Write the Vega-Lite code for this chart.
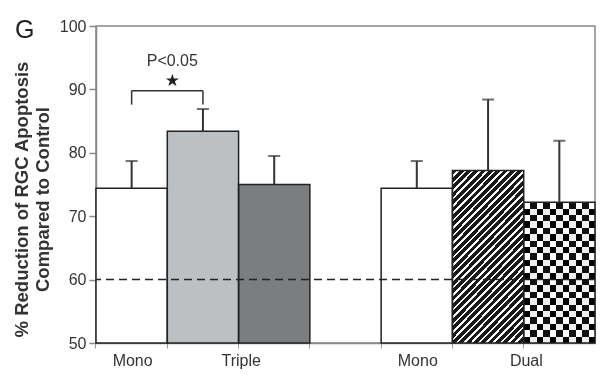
{
  "$schema": "https://vega.github.io/schema/vega-lite/v6.json",
  "width": 499,
  "height": 317,
  "autosize": {"type": "none"},
  "padding": {"left": 96, "top": 26, "right": 5, "bottom": 36},
  "background": "white",
  "config": {"font": "Liberation Sans", "view": {"stroke": "#888", "strokeWidth": 1.5}},
  "title": {"text": "G", "anchor": "start", "frame": "group", "fontSize": 25, "fontWeight": "normal", "color": "#222", "baseline": "alphabetic", "offset": 0, "dx": -81, "dy": 45},
  "data": {"values": [
    {"bar": "Mono-1", "group": "Triple", "treatment": "Mono", "mean": 74.4, "upper": 78.7},
    {"bar": "Triple-1", "group": "Triple", "treatment": "Triple A", "mean": 83.4, "upper": 86.9},
    {"bar": "Triple-2", "group": "Triple", "treatment": "Triple B", "mean": 75.0, "upper": 79.5},
    {"bar": "Mono-2", "group": "Dual", "treatment": "Mono", "mean": 74.4, "upper": 78.7},
    {"bar": "Dual-1", "group": "Dual", "treatment": "Dual A", "mean": 77.2, "upper": 88.4},
    {"bar": "Dual-2", "group": "Dual", "treatment": "Dual B", "mean": 72.2, "upper": 81.9}
  ]},
  "encoding": {
    "x": {
      "field": "bar", "type": "nominal",
      "scale": {"type": "band", "domain": ["Mono-1", "Triple-1", "Triple-2", "gap", "Mono-2", "Dual-1", "Dual-2"], "paddingInner": 0, "paddingOuter": 0},
      "axis": {
        "title": null, "bandPosition": 0, "labelAngle": 0,
        "tickSize": 5, "tickColor": "#999", "tickWidth": 1,
        "domainColor": "#888", "domainWidth": 1.5,
        "labelFontSize": 16, "labelColor": "#333", "labelPadding": 4,
        "labelExpr": "datum.value == 'Mono-1' || datum.value == 'Mono-2' ? 'Mono' : datum.value == 'Triple-2' ? 'Triple' : datum.value == 'Dual-2' ? 'Dual' : ''",
        "labelOffset": {"condition": {"test": "datum.value == 'Mono-1' || datum.value == 'Mono-2'", "value": 1}, "value": -33}
      }
    }
  },
  "layer": [
    {
      "mark": {"type": "bar", "strokeWidth": 0},
      "encoding": {
        "y": {"field": "mean", "type": "quantitative", "scale": {"domain": [50, 100], "nice": false, "zero": false},
          "title": ["% Reduction of RGC Apoptosis", "Compared to Control"],
          "axis": {"values": [50, 60, 70, 80, 90, 100], "grid": false,
            "domainColor": "#888", "domainWidth": 1.5, "tickColor": "#888", "tickSize": 7, "tickWidth": 1.5,
            "labelFontSize": 16, "labelColor": "#333", "labelPadding": 3,
            "titleFontSize": 18.5, "titleFontWeight": "bold", "titleColor": "#333", "titleLineHeight": 21, "titleY": 173, "titlePadding": 7}},
        "y2": {"datum": 50},
        "fill": {"field": "bar", "type": "nominal", "legend": null,
          "scale": {"domain": ["Mono-1", "Triple-1", "Triple-2", "Mono-2", "Dual-1", "Dual-2"], "range": ["#ffffff", "#bcc0c3", "#7b7d80", "#ffffff", "#1a1a1a", "#ffffff"]}}
      }
    },
    {
      "transform": [{"filter": "datum.bar == 'Dual-1'"}],
      "mark": {"type": "bar", "strokeWidth": 0, "fill": {"gradient": "linear", "x1": 0, "y1": 0, "x2": 0.507, "y2": 1.207, "stops": [
        {"offset": 0, "color": "#1a1a1a"}, {"offset": 0.0197, "color": "#1a1a1a"}, {"offset": 0.0197, "color": "#ffffff"}, {"offset": 0.0303, "color": "#ffffff"},
        {"offset": 0.0303, "color": "#1a1a1a"}, {"offset": 0.0500, "color": "#1a1a1a"}, {"offset": 0.0500, "color": "#ffffff"}, {"offset": 0.0606, "color": "#ffffff"},
        {"offset": 0.0606, "color": "#1a1a1a"}, {"offset": 0.0803, "color": "#1a1a1a"}, {"offset": 0.0803, "color": "#ffffff"}, {"offset": 0.0909, "color": "#ffffff"},
        {"offset": 0.0909, "color": "#1a1a1a"}, {"offset": 0.1106, "color": "#1a1a1a"}, {"offset": 0.1106, "color": "#ffffff"}, {"offset": 0.1212, "color": "#ffffff"},
        {"offset": 0.1212, "color": "#1a1a1a"}, {"offset": 0.1409, "color": "#1a1a1a"}, {"offset": 0.1409, "color": "#ffffff"}, {"offset": 0.1515, "color": "#ffffff"},
        {"offset": 0.1515, "color": "#1a1a1a"}, {"offset": 0.1712, "color": "#1a1a1a"}, {"offset": 0.1712, "color": "#ffffff"}, {"offset": 0.1818, "color": "#ffffff"},
        {"offset": 0.1818, "color": "#1a1a1a"}, {"offset": 0.2015, "color": "#1a1a1a"}, {"offset": 0.2015, "color": "#ffffff"}, {"offset": 0.2121, "color": "#ffffff"},
        {"offset": 0.2121, "color": "#1a1a1a"}, {"offset": 0.2318, "color": "#1a1a1a"}, {"offset": 0.2318, "color": "#ffffff"}, {"offset": 0.2424, "color": "#ffffff"},
        {"offset": 0.2424, "color": "#1a1a1a"}, {"offset": 0.2621, "color": "#1a1a1a"}, {"offset": 0.2621, "color": "#ffffff"}, {"offset": 0.2727, "color": "#ffffff"},
        {"offset": 0.2727, "color": "#1a1a1a"}, {"offset": 0.2924, "color": "#1a1a1a"}, {"offset": 0.2924, "color": "#ffffff"}, {"offset": 0.3030, "color": "#ffffff"},
        {"offset": 0.3030, "color": "#1a1a1a"}, {"offset": 0.3227, "color": "#1a1a1a"}, {"offset": 0.3227, "color": "#ffffff"}, {"offset": 0.3333, "color": "#ffffff"},
        {"offset": 0.3333, "color": "#1a1a1a"}, {"offset": 0.3530, "color": "#1a1a1a"}, {"offset": 0.3530, "color": "#ffffff"}, {"offset": 0.3636, "color": "#ffffff"},
        {"offset": 0.3636, "color": "#1a1a1a"}, {"offset": 0.3833, "color": "#1a1a1a"}, {"offset": 0.3833, "color": "#ffffff"}, {"offset": 0.3939, "color": "#ffffff"},
        {"offset": 0.3939, "color": "#1a1a1a"}, {"offset": 0.4136, "color": "#1a1a1a"}, {"offset": 0.4136, "color": "#ffffff"}, {"offset": 0.4242, "color": "#ffffff"},
        {"offset": 0.4242, "color": "#1a1a1a"}, {"offset": 0.4439, "color": "#1a1a1a"}, {"offset": 0.4439, "color": "#ffffff"}, {"offset": 0.4545, "color": "#ffffff"},
        {"offset": 0.4545, "color": "#1a1a1a"}, {"offset": 0.4742, "color": "#1a1a1a"}, {"offset": 0.4742, "color": "#ffffff"}, {"offset": 0.4848, "color": "#ffffff"},
        {"offset": 0.4848, "color": "#1a1a1a"}, {"offset": 0.5045, "color": "#1a1a1a"}, {"offset": 0.5045, "color": "#ffffff"}, {"offset": 0.5152, "color": "#ffffff"},
        {"offset": 0.5152, "color": "#1a1a1a"}, {"offset": 0.5348, "color": "#1a1a1a"}, {"offset": 0.5348, "color": "#ffffff"}, {"offset": 0.5455, "color": "#ffffff"},
        {"offset": 0.5455, "color": "#1a1a1a"}, {"offset": 0.5652, "color": "#1a1a1a"}, {"offset": 0.5652, "color": "#ffffff"}, {"offset": 0.5758, "color": "#ffffff"},
        {"offset": 0.5758, "color": "#1a1a1a"}, {"offset": 0.5955, "color": "#1a1a1a"}, {"offset": 0.5955, "color": "#ffffff"}, {"offset": 0.6061, "color": "#ffffff"},
        {"offset": 0.6061, "color": "#1a1a1a"}, {"offset": 0.6258, "color": "#1a1a1a"}, {"offset": 0.6258, "color": "#ffffff"}, {"offset": 0.6364, "color": "#ffffff"},
        {"offset": 0.6364, "color": "#1a1a1a"}, {"offset": 0.6561, "color": "#1a1a1a"}, {"offset": 0.6561, "color": "#ffffff"}, {"offset": 0.6667, "color": "#ffffff"},
        {"offset": 0.6667, "color": "#1a1a1a"}, {"offset": 0.6864, "color": "#1a1a1a"}, {"offset": 0.6864, "color": "#ffffff"}, {"offset": 0.6970, "color": "#ffffff"},
        {"offset": 0.6970, "color": "#1a1a1a"}, {"offset": 0.7167, "color": "#1a1a1a"}, {"offset": 0.7167, "color": "#ffffff"}, {"offset": 0.7273, "color": "#ffffff"},
        {"offset": 0.7273, "color": "#1a1a1a"}, {"offset": 0.7470, "color": "#1a1a1a"}, {"offset": 0.7470, "color": "#ffffff"}, {"offset": 0.7576, "color": "#ffffff"},
        {"offset": 0.7576, "color": "#1a1a1a"}, {"offset": 0.7773, "color": "#1a1a1a"}, {"offset": 0.7773, "color": "#ffffff"}, {"offset": 0.7879, "color": "#ffffff"},
        {"offset": 0.7879, "color": "#1a1a1a"}, {"offset": 0.8076, "color": "#1a1a1a"}, {"offset": 0.8076, "color": "#ffffff"}, {"offset": 0.8182, "color": "#ffffff"},
        {"offset": 0.8182, "color": "#1a1a1a"}, {"offset": 0.8379, "color": "#1a1a1a"}, {"offset": 0.8379, "color": "#ffffff"}, {"offset": 0.8485, "color": "#ffffff"},
        {"offset": 0.8485, "color": "#1a1a1a"}, {"offset": 0.8682, "color": "#1a1a1a"}, {"offset": 0.8682, "color": "#ffffff"}, {"offset": 0.8788, "color": "#ffffff"},
        {"offset": 0.8788, "color": "#1a1a1a"}, {"offset": 0.8985, "color": "#1a1a1a"}, {"offset": 0.8985, "color": "#ffffff"}, {"offset": 0.9091, "color": "#ffffff"},
        {"offset": 0.9091, "color": "#1a1a1a"}, {"offset": 0.9288, "color": "#1a1a1a"}, {"offset": 0.9288, "color": "#ffffff"}, {"offset": 0.9394, "color": "#ffffff"},
        {"offset": 0.9394, "color": "#1a1a1a"}, {"offset": 0.9591, "color": "#1a1a1a"}, {"offset": 0.9591, "color": "#ffffff"}, {"offset": 0.9697, "color": "#ffffff"},
        {"offset": 0.9697, "color": "#1a1a1a"}, {"offset": 0.9894, "color": "#1a1a1a"}, {"offset": 0.9894, "color": "#ffffff"}, {"offset": 1, "color": "#ffffff"}
      ]}},
      "encoding": {
        "y": {"field": "mean", "type": "quantitative", "title": ["% Reduction of RGC Apoptosis", "Compared to Control"]},
        "y2": {"datum": 50}
      }
    },
    {
      "transform": [{"filter": "datum.bar == 'Dual-2'"}],
      "mark": {"type": "bar", "strokeWidth": 0, "fill": {"gradient": "linear", "x1": 0, "y1": 0, "x2": 1, "y2": 0, "stops": [
        {"offset": 0, "color": "#ffffff"}, {"offset": 0.0909, "color": "#ffffff"}, {"offset": 0.0909, "color": "#111111"}, {"offset": 0.1818, "color": "#111111"},
        {"offset": 0.1818, "color": "#ffffff"}, {"offset": 0.2727, "color": "#ffffff"}, {"offset": 0.2727, "color": "#111111"}, {"offset": 0.3636, "color": "#111111"},
        {"offset": 0.3636, "color": "#ffffff"}, {"offset": 0.4545, "color": "#ffffff"}, {"offset": 0.4545, "color": "#111111"}, {"offset": 0.5455, "color": "#111111"},
        {"offset": 0.5455, "color": "#ffffff"}, {"offset": 0.6364, "color": "#ffffff"}, {"offset": 0.6364, "color": "#111111"}, {"offset": 0.7273, "color": "#111111"},
        {"offset": 0.7273, "color": "#ffffff"}, {"offset": 0.8182, "color": "#ffffff"}, {"offset": 0.8182, "color": "#111111"}, {"offset": 0.9091, "color": "#111111"},
        {"offset": 0.9091, "color": "#ffffff"}, {"offset": 1, "color": "#ffffff"}
      ]}},
      "encoding": {
        "y": {"field": "mean", "type": "quantitative", "title": ["% Reduction of RGC Apoptosis", "Compared to Control"]},
        "y2": {"datum": 50}
      }
    },
    {
      "transform": [{"filter": "datum.bar == 'Dual-2'"}],
      "mark": {"type": "bar", "strokeWidth": 0, "blend": "difference", "fill": {"gradient": "linear", "x1": 0, "y1": 0, "x2": 0, "y2": 1, "stops": [
        {"offset": 0, "color": "#000000"}, {"offset": 0.0455, "color": "#000000"}, {"offset": 0.0455, "color": "#ffffff"}, {"offset": 0.0909, "color": "#ffffff"},
        {"offset": 0.0909, "color": "#000000"}, {"offset": 0.1364, "color": "#000000"}, {"offset": 0.1364, "color": "#ffffff"}, {"offset": 0.1818, "color": "#ffffff"},
        {"offset": 0.1818, "color": "#000000"}, {"offset": 0.2273, "color": "#000000"}, {"offset": 0.2273, "color": "#ffffff"}, {"offset": 0.2727, "color": "#ffffff"},
        {"offset": 0.2727, "color": "#000000"}, {"offset": 0.3182, "color": "#000000"}, {"offset": 0.3182, "color": "#ffffff"}, {"offset": 0.3636, "color": "#ffffff"},
        {"offset": 0.3636, "color": "#000000"}, {"offset": 0.4091, "color": "#000000"}, {"offset": 0.4091, "color": "#ffffff"}, {"offset": 0.4545, "color": "#ffffff"},
        {"offset": 0.4545, "color": "#000000"}, {"offset": 0.5, "color": "#000000"}, {"offset": 0.5, "color": "#ffffff"}, {"offset": 0.5455, "color": "#ffffff"},
        {"offset": 0.5455, "color": "#000000"}, {"offset": 0.5909, "color": "#000000"}, {"offset": 0.5909, "color": "#ffffff"}, {"offset": 0.6364, "color": "#ffffff"},
        {"offset": 0.6364, "color": "#000000"}, {"offset": 0.6818, "color": "#000000"}, {"offset": 0.6818, "color": "#ffffff"}, {"offset": 0.7273, "color": "#ffffff"},
        {"offset": 0.7273, "color": "#000000"}, {"offset": 0.7727, "color": "#000000"}, {"offset": 0.7727, "color": "#ffffff"}, {"offset": 0.8182, "color": "#ffffff"},
        {"offset": 0.8182, "color": "#000000"}, {"offset": 0.8636, "color": "#000000"}, {"offset": 0.8636, "color": "#ffffff"}, {"offset": 0.9091, "color": "#ffffff"},
        {"offset": 0.9091, "color": "#000000"}, {"offset": 0.9545, "color": "#000000"}, {"offset": 0.9545, "color": "#ffffff"}, {"offset": 1, "color": "#ffffff"}
      ]}},
      "encoding": {
        "y": {"field": "mean", "type": "quantitative", "title": ["% Reduction of RGC Apoptosis", "Compared to Control"]},
        "y2": {"datum": 50}
      }
    },
    {
      "mark": {"type": "bar", "fillOpacity": 0, "stroke": "#222", "strokeWidth": 1.5},
      "encoding": {
        "y": {"field": "mean", "type": "quantitative", "title": ["% Reduction of RGC Apoptosis", "Compared to Control"]},
        "y2": {"datum": 50}
      }
    },
    {
      "data": {"values": [{"reference": "Control level"}]},
      "mark": {"type": "rule", "color": "#222", "strokeWidth": 1.5, "strokeDash": [8, 5]},
      "encoding": {"x": null, "y": {"datum": 60, "type": "quantitative", "title": ["% Reduction of RGC Apoptosis", "Compared to Control"]}}
    },
    {
      "mark": {"type": "rule", "color": "#333", "strokeWidth": 2},
      "encoding": {
        "y": {"field": "mean", "type": "quantitative", "title": ["% Reduction of RGC Apoptosis", "Compared to Control"]},
        "y2": {"field": "upper"}
      }
    },
    {
      "mark": {"type": "tick", "color": "#333", "size": 12, "thickness": 2, "orient": "horizontal"},
      "encoding": {
        "y": {"field": "upper", "type": "quantitative", "title": ["% Reduction of RGC Apoptosis", "Compared to Control"]}
      }
    },
    {
      "data": {"values": [{"comparison": "Mono vs Triple A", "label": "P<0.05"}]},
      "mark": {"type": "rule", "color": "#333", "strokeWidth": 1.5},
      "encoding": {
        "x": {"datum": "Mono-1"}, "x2": {"datum": "Triple-1"},
        "y": {"datum": 89.8, "type": "quantitative", "title": ["% Reduction of RGC Apoptosis", "Compared to Control"]}
      }
    },
    {
      "data": {"values": [{"comparison": "Mono vs Triple A", "label": "P<0.05"}]},
      "mark": {"type": "rule", "color": "#333", "strokeWidth": 1.5},
      "encoding": {
        "x": {"datum": "Mono-1"},
        "y": {"datum": 87.6, "type": "quantitative", "title": ["% Reduction of RGC Apoptosis", "Compared to Control"]}, "y2": {"datum": 89.8}
      }
    },
    {
      "data": {"values": [{"comparison": "Mono vs Triple A", "label": "P<0.05"}]},
      "mark": {"type": "rule", "color": "#333", "strokeWidth": 1.5},
      "encoding": {
        "x": {"datum": "Triple-1"},
        "y": {"datum": 87.6, "type": "quantitative", "title": ["% Reduction of RGC Apoptosis", "Compared to Control"]}, "y2": {"datum": 89.8}
      }
    },
    {
      "data": {"values": [{"comparison": "Mono vs Triple A", "label": "P<0.05"}]},
      "mark": {"type": "text", "text": "★", "font": "DejaVu Sans", "fontSize": 17, "color": "#222", "baseline": "middle", "align": "center", "dx": 5},
      "encoding": {
        "x": {"datum": "Triple-1", "bandPosition": 0},
        "y": {"datum": 91.4, "type": "quantitative", "title": ["% Reduction of RGC Apoptosis", "Compared to Control"]}
      }
    },
    {
      "data": {"values": [{"comparison": "Mono vs Triple A", "label": "P<0.05"}]},
      "mark": {"type": "text", "fontSize": 16, "color": "#333", "baseline": "middle", "align": "center", "dx": 5},
      "encoding": {
        "x": {"datum": "Triple-1", "bandPosition": 0},
        "y": {"datum": 94.5, "type": "quantitative", "title": ["% Reduction of RGC Apoptosis", "Compared to Control"]},
        "text": {"field": "label"}
      }
    }
  ]
}
